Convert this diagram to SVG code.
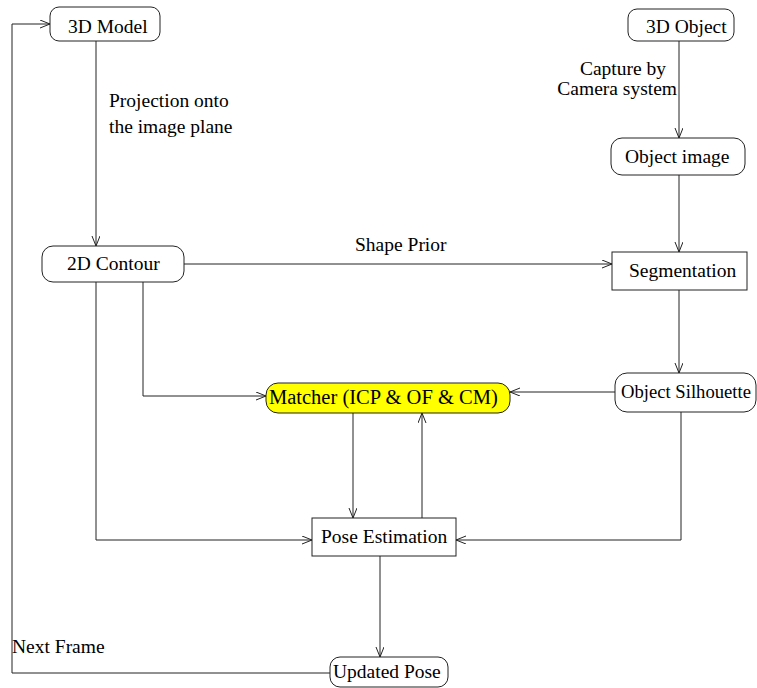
<svg xmlns="http://www.w3.org/2000/svg" width="757" height="688" viewBox="0 0 757 688">
<defs>
<marker id="arr" markerUnits="userSpaceOnUse" markerWidth="12" markerHeight="10" refX="10" refY="4" orient="auto">
<path d="M0,0 L10,4 L0,8" fill="none" stroke="#222" stroke-width="1"/>
</marker>
<style>
.n{fill:#fff;stroke:#222;stroke-width:1}
.t{font-family:"Liberation Serif","Times New Roman",serif;font-size:19.5px;fill:#000}
.c{fill:none;stroke:#222;stroke-width:1;marker-end:url(#arr)}
</style>
</defs>
<rect width="757" height="688" fill="#fff"/>
<g id="connectors">
<path class="c" d="M96,41 V246"/>
<path class="c" d="M679,41 V138"/>
<path class="c" d="M679,175 V252"/>
<path class="c" d="M184,264 H612"/>
<path class="c" d="M679,290 V373"/>
<path class="c" d="M615,392 H510"/>
<path class="c" d="M143,282 V396 H266"/>
<path class="c" d="M353,413 V518"/>
<path class="c" d="M422,518 V413"/>
<path class="c" d="M96,282 V540 H312"/>
<path class="c" d="M681,412 V540 H456"/>
<path class="c" d="M380,556 V657"/>
<path class="c" d="M330,673 H12 V24 H50"/>
<text class="t" x="109" y="107">Projection onto</text>
<text class="t" x="109" y="133">the image plane</text>
<text class="t" x="666" y="75" text-anchor="end">Capture by</text>
<text class="t" x="677" y="95" text-anchor="end">Camera system</text>
<text class="t" x="355" y="251">Shape Prior</text>
<text class="t" x="12" y="653">Next Frame</text>
</g>
<g id="model3d"><rect class="n" x="50" y="7" width="110" height="34" rx="9"/><text class="t" x="68" y="33">3D Model</text></g>
<g id="object3d"><rect class="n" x="628" y="9" width="106" height="32" rx="9"/><text class="t" x="646" y="33">3D Object</text></g>
<g id="objimage"><rect class="n" x="611" y="138" width="134" height="37" rx="11"/><text class="t" x="625" y="163">Object image</text></g>
<g id="contour2d"><rect class="n" x="42" y="246" width="142" height="36" rx="11"/><text class="t" x="67" y="270">2D Contour</text></g>
<g id="segmentation"><rect class="n" x="612" y="252" width="135" height="38"/><text class="t" x="629" y="277">Segmentation</text></g>
<g id="matcher"><rect x="266" y="383" width="244" height="30" rx="12" fill="#ffff00" stroke="#222"/><text class="t" x="269" y="404" style="font-size:20.5px">Matcher (ICP &amp; OF &amp; CM)</text></g>
<g id="silhouette"><rect class="n" x="615" y="373" width="141" height="39" rx="12"/><text class="t" x="621" y="398" textLength="130" lengthAdjust="spacingAndGlyphs">Object Silhouette</text></g>
<g id="pose"><rect class="n" x="312" y="518" width="144" height="38"/><text class="t" x="321" y="543">Pose Estimation</text></g>
<g id="updated"><rect class="n" x="330" y="657" width="118" height="30" rx="10"/><text class="t" x="333" y="678">Updated Pose</text></g>
</svg>
